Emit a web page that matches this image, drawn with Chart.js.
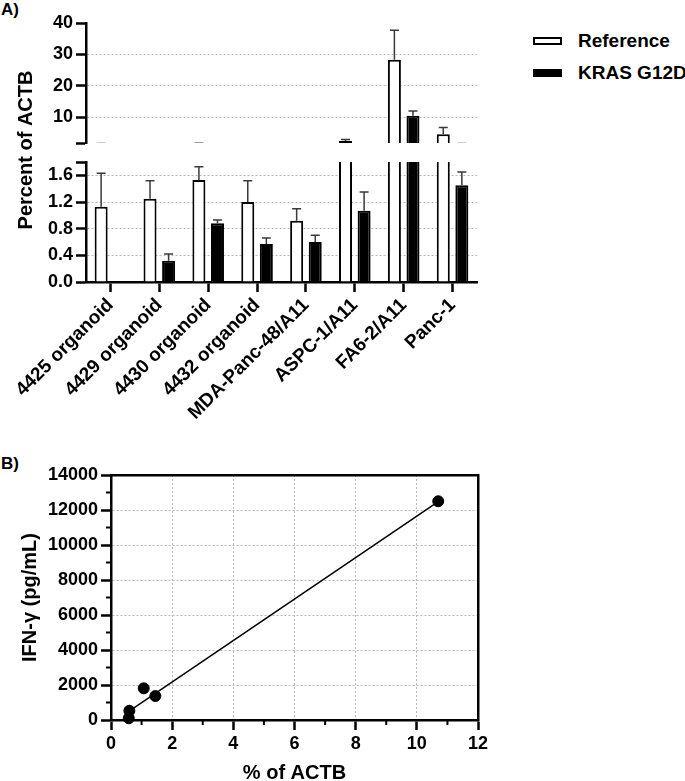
<!DOCTYPE html>
<html>
<head>
<meta charset="utf-8">
<title>Percent of ACTB</title>
<script src="https://cdn.jsdelivr.net/npm/chart.js@4.4.1/dist/chart.umd.min.js"></script>
<style>
    body { margin: 0; background: #fff; color: #000; font-family: "Liberation Sans", Arial, sans-serif; font-weight: bold; }
    canvas { position: absolute; left: 0; }
    .lbl { position: absolute; white-space: nowrap; }
    .legendRow { display: flex; align-items: center; height: 32px; font-size: 19px; }
    .legendBox { width: 29px; height: 8px; box-sizing: border-box; border: 2.5px solid #000; margin-right: 16px; }
</style>
</head>
<body>
<div class="lbl" style="left:1px;top:0px;font-size:17px;">A)</div>
<div class="lbl" id="legend" style="left:533px;top:25px;"></div>
<div class="lbl" style="left:1px;top:454px;font-size:17px;">B)</div>
<canvas id="chart_bottom" width="685" height="440" style="top:0px;"></canvas>
<canvas id="chart_top" width="685" height="150" style="top:0px;"></canvas>
<canvas id="chart_scatter" width="685" height="330" style="top:455px;"></canvas>

<script>
// A) percent of ACTB, mean and upper error
var Categories = ['4425 organoid', '4429 organoid', '4430 organoid', '4432 organoid', 'MDA-Panc-48/A11', 'ASPC-1/A11', 'FA6-2/A11', 'Panc-1'];
var SeriesNames = ['Reference', 'KRAS G12D'];
var ReferenceMean = [1.13, 1.25, 1.53, 1.20, 0.92, 2.4, 28.3, 4.55];
var ReferenceErr = [0.50, 0.27, 0.20, 0.32, 0.18, 0.55, 9.4, 2.15];
var KrasMean = [null, 0.32, 0.88, 0.57, 0.60, 1.07, 10.5, 1.45];
var KrasErr = [0, 0.10, 0.05, 0.09, 0.10, 0.28, 1.5, 0.20];
var PanelATitle = 'Percent of ACTB';

// broken axis segments
var BreakAt = 1.8;
var LowerRange = [0, 1.8];
var LowerTicks = [0, 0.4, 0.8, 1.2, 1.6, 1.8];
var UpperRange = [1.8, 40];
var UpperTicks = [1.8, 10, 20, 30, 40];

// B) IFN-gamma vs % of ACTB
var ActbPercent = [0.58, 0.60, 1.07, 1.45, 10.7];
var IfnGamma = [100, 530, 1810, 1370, 12500];
var FitX = [0.57, 10.7];
var FitY = [480, 12480];
var ScatterXRange = [0, 12];
var ScatterXStep = 2;
var ScatterYRange = [0, 14000];
var ScatterYStep = 2000;
var ScatterMinorX = [1, 3, 5, 7, 9, 11];
var ScatterMinorY = [1000, 3000, 5000, 7000, 9000, 11000, 13000];

Chart.defaults.font.family = '"Liberation Sans", Arial, sans-serif';
Chart.defaults.color = '#000';
Chart.defaults.animation = false;

var GRID = '#b8b8b8';
var CLEAR = 'rgba(0,0,0,0)';

function tickFont() { return { size: 18, weight: 'bold' }; }
function catFont() { return { size: 19, weight: 'bold' }; }
function titleFont() { return { size: 20, weight: 'bold' }; }

var Plugin = {
    ErrorBars: function () {
        return {
            id: 'errorBars',
            afterDatasetsDraw: function (chart) {
                var ctx = chart.ctx, area = chart.chartArea;
                ctx.save();
                ctx.beginPath();
                ctx.rect(area.left, area.top, area.right - area.left, area.bottom - area.top);
                ctx.clip();
                ctx.strokeStyle = '#3a3a3a';
                ctx.lineWidth = 1.5;
                chart.data.datasets.forEach(function (ds, i) {
                    if (!ds.errors) return;
                    var meta = chart.getDatasetMeta(i);
                    var yScale = chart.scales[meta.yAxisID];
                    meta.data.forEach(function (bar, j) {
                        var v = ds.data[j], e = ds.errors[j];
                        if (v == null || !e) return;
                        var yTop = yScale.getPixelForValue(v + e);
                        ctx.beginPath();
                        ctx.moveTo(bar.x, bar.y);
                        ctx.lineTo(bar.x, yTop);
                        ctx.moveTo(bar.x - 4.5, yTop);
                        ctx.lineTo(bar.x + 4.5, yTop);
                        ctx.stroke();
                    });
                });
                ctx.restore();
            }
        };
    },
    MinorTicks: function (values) {
        return {
            id: 'minorTicks',
            afterDraw: function (chart) {
                var ctx = chart.ctx;
                ctx.save();
                ctx.strokeStyle = '#000';
                ctx.lineWidth = 2;
                Object.keys(values).forEach(function (id) {
                    var scale = chart.scales[id];
                    values[id].forEach(function (v) {
                        var p = scale.getPixelForValue(v);
                        ctx.beginPath();
                        if (scale.isHorizontal()) {
                            ctx.moveTo(p, scale.top);
                            ctx.lineTo(p, scale.top + 5);
                        } else {
                            ctx.moveTo(scale.right, p);
                            ctx.lineTo(scale.right - 5, p);
                        }
                        ctx.stroke();
                    });
                });
                ctx.restore();
            }
        };
    },
    // one title shared by both axis segments
    SplitTitle: function (text, x, y) {
        return {
            id: 'splitTitle',
            afterDraw: function (chart) {
                var ctx = chart.ctx;
                ctx.save();
                ctx.translate(x, y);
                ctx.rotate(-Math.PI / 2);
                ctx.font = 'bold 20px "Liberation Sans", Arial, sans-serif';
                ctx.fillStyle = '#000';
                ctx.textAlign = 'center';
                ctx.textBaseline = 'middle';
                ctx.fillText(text, 0, 0);
                ctx.restore();
            }
        };
    }
};

var Form = {
    Init: function () {
        Form.DrawLegend();
        new Chart(document.getElementById('chart_bottom').getContext('2d'), Form.BarConfig(LowerRange, LowerTicks, true));
        new Chart(document.getElementById('chart_top').getContext('2d'), Form.BarConfig(UpperRange, UpperTicks, false));
        new Chart(document.getElementById('chart_scatter').getContext('2d'), Form.ScatterConfig());
    },
    DrawLegend: function () {
        var html = '';
        var fills = ['#fff', '#000'];
        for (var i = 0; i < SeriesNames.length; ++i) {
            html += '<div class="legendRow"><div class="legendBox" style="background:' + fills[i] + '"></div>' + SeriesNames[i] + '</div>';
        }
        document.getElementById('legend').innerHTML = html;
    },
    BarDataset: function (label, data, errors, fill) {
        return {
            label: label,
            data: data.slice(),
            errors: errors.slice(),
            backgroundColor: fill,
            borderColor: '#000',
            borderWidth: 2,
            borderSkipped: 'start',
            clip: 0,
            categoryPercentage: 0.76,
            barPercentage: 0.7
        };
    },
    BarConfig: function (range, tickValues, lower) {
        var config = null;
        var lo = range[0], hi = range[1];
        var decimals = hi < 5 ? 1 : 0;
        var plugins = [Plugin.ErrorBars()];
        if (lower) plugins.push(Plugin.SplitTitle(PanelATitle, 26, 150));

        config = {
            type: 'bar',
            data: {
                labels: Categories.slice(),
                datasets: [
                    Form.BarDataset(SeriesNames[0], ReferenceMean, ReferenceErr, '#fff'),
                    Form.BarDataset(SeriesNames[1], KrasMean, KrasErr, '#000')
                ]
            },
            options: {
                responsive: false,
                animation: false,
                layout: { padding: lower ? { top: 162, right: 208, bottom: 0, left: 0 } : { top: 23, right: 208, bottom: 7, left: 0 } },
                plugins: { legend: { display: false }, tooltip: { enabled: false } },
                scales: {
                    x: {
                        display: lower,
                        grid: { offset: false, drawOnChartArea: false, tickLength: 10, tickWidth: 2.5, tickColor: '#000' },
                        border: { width: 2.5, color: '#000' },
                        ticks: { autoSkip: false, maxRotation: 45, minRotation: 45, font: catFont(), color: '#000', padding: 2 },
                        afterFit: function (s) { s.height = lower ? 158 : 0; s.paddingLeft = 0; s.paddingRight = 0; }
                    },
                    y: {
                        min: lo,
                        max: hi,
                        afterBuildTicks: function (s) {
                            s.ticks = tickValues.map(function (v) { return { value: v }; });
                        },
                        ticks: {
                            autoSkip: false,
                            font: tickFont(),
                            color: '#000',
                            padding: 3,
                            callback: function (v) { return Math.abs(v - BreakAt) < 1e-9 ? '' : v.toFixed(decimals); }
                        },
                        grid: {
                            color: function (c) { return c.tick && c.tick.value > lo + 1e-9 && c.tick.value < hi - 1e-9 ? GRID : CLEAR; },
                            lineWidth: 1,
                            tickLength: 10,
                            tickWidth: 2.5,
                            tickColor: '#000'
                        },
                        border: { width: 2.5, color: '#000', dash: [2, 2] },
                        afterFit: function (s) { s.width = 86; s.paddingTop = 0; s.paddingBottom = 0; }
                    }
                }
            },
            plugins: plugins
        };

        return config;
    },
    ScatterConfig: function () {
        var points = [], fit = [];
        for (var i = 0; i < ActbPercent.length; ++i) points.push({ x: ActbPercent[i], y: IfnGamma[i] });
        for (var k = 0; k < FitX.length; ++k) fit.push({ x: FitX[k], y: FitY[k] });

        var inner = function (range) {
            return function (c) { return c.tick && c.tick.value > range[0] && c.tick.value < range[1] ? GRID : CLEAR; };
        };

        var config = {
            type: 'scatter',
            data: {
                datasets: [{
                    type: 'line',
                    label: 'Fit',
                    data: fit,
                    borderColor: '#000',
                    borderWidth: 1.5,
                    pointRadius: 0,
                    fill: false
                }, {
                    label: 'Samples',
                    data: points,
                    pointRadius: 5.5,
                    pointBackgroundColor: '#000',
                    pointBorderColor: '#000',
                    clip: false
                }]
            },
            options: {
                responsive: false,
                layout: { padding: { top: 20, right: 207, bottom: 0, left: 0 } },
                plugins: { legend: { display: false }, tooltip: { enabled: false } },
                scales: {
                    x: {
                        type: 'linear',
                        min: ScatterXRange[0],
                        max: ScatterXRange[1],
                        ticks: { stepSize: ScatterXStep, font: tickFont(), color: '#000', padding: 3, callback: function (v) { return String(v); } },
                        grid: { color: inner(ScatterXRange), tickLength: 10, tickWidth: 2.5, tickColor: '#000' },
                        border: { width: 2.5, color: '#000', dash: [2, 2] },
                        title: { display: true, text: '% of ACTB', font: titleFont(), color: '#000', padding: { top: 0, bottom: 0 } },
                        afterFit: function (s) { s.height = 65; s.paddingLeft = 0; s.paddingRight = 0; }
                    },
                    y: {
                        min: ScatterYRange[0],
                        max: ScatterYRange[1],
                        ticks: { stepSize: ScatterYStep, font: tickFont(), color: '#000', padding: 3, callback: function (v) { return String(v); } },
                        grid: { color: inner(ScatterYRange), tickLength: 10, tickWidth: 2.5, tickColor: '#000' },
                        border: { width: 2.5, color: '#000', dash: [2, 2] },
                        title: { display: true, text: 'IFN-γ (pg/mL)', font: titleFont(), color: '#000', padding: { top: 18, bottom: 0 } },
                        afterFit: function (s) { s.width = 111; s.paddingTop = 0; s.paddingBottom = 0; }
                    },
                    x2: {
                        type: 'linear', position: 'top',
                        ticks: { display: false },
                        grid: { display: false, drawTicks: false },
                        border: { width: 2.5, color: '#000' },
                        afterFit: function (s) { s.height = 0; }
                    },
                    y2: {
                        type: 'linear', position: 'right',
                        ticks: { display: false },
                        grid: { display: false, drawTicks: false },
                        border: { width: 2.5, color: '#000' },
                        afterFit: function (s) { s.width = 0; }
                    }
                }
            },
            plugins: [Plugin.MinorTicks({ x: ScatterMinorX, y: ScatterMinorY })]
        };

        return config;
    }
};

Form.Init();
</script>
</body>
</html>
